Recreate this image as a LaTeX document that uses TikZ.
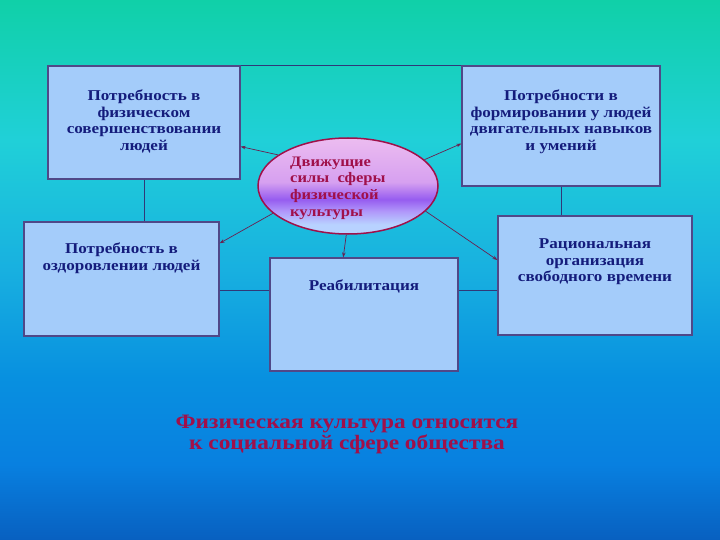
\documentclass[tikz,border=0pt]{standalone}
\usepackage{fontspec}
\setmainfont[FakeStretch=1.14]{Liberation Serif}
\usetikzlibrary{positioning,arrows.meta,shapes.geometric}
\definecolor{boxfill}{RGB}{164,204,250}
\definecolor{boxline}{RGB}{80,72,136}
\definecolor{boxink}{RGB}{20,28,124}
\definecolor{joinline}{RGB}{48,56,120}
\definecolor{arrowink}{RGB}{106,32,80}
\definecolor{maroon}{RGB}{160,16,74}
\pgfdeclareverticalshading{backdrop}{100bp}{
  color(0bp)=(rgb,255:red,8;green,96;blue,192);
  color(25bp)=(rgb,255:red,8;green,96;blue,192);
  color(32bp)=(rgb,255:red,8;green,128;blue,224);
  color(40bp)=(rgb,255:red,8;green,144;blue,224);
  color(50bp)=(rgb,255:red,24;green,176;blue,224);
  color(62bp)=(rgb,255:red,32;green,208;blue,216);
  color(75bp)=(rgb,255:red,16;green,208;blue,168);
  color(100bp)=(rgb,255:red,16;green,208;blue,168)}
\pgfdeclareverticalshading{ovalshade}{100bp}{
  color(0bp)=(rgb,255:red,184;green,210;blue,255);
  color(30bp)=(rgb,255:red,184;green,210;blue,255);
  color(37bp)=(rgb,255:red,176;green,150;blue,250);
  color(43bp)=(rgb,255:red,150;green,92;blue,240);
  color(52bp)=(rgb,255:red,214;green,160;blue,240);
  color(75bp)=(rgb,255:red,236;green,188;blue,240);
  color(100bp)=(rgb,255:red,236;green,188;blue,240)}
\tikzset{
  box/.style={draw=boxline, line width=1.2pt, fill=boxfill, inner sep=0pt},
  boxtext/.style={text=boxink, font=\fontsize{15}{16.5}\selectfont\bfseries, align=center, inner sep=0pt},
  linkline/.style={draw=joinline, line width=0.6pt},
  push/.style={draw=arrowink, line width=0.7pt, -{Stealth[length=5pt,width=3.5pt]}}
}
\begin{document}
\begin{tikzpicture}[x=1pt, y=-1pt]
  \useasboundingbox (0, 0) rectangle (720, 540);
  \shade [shading=backdrop] (0, 0) rectangle (720, 540);

  \node [box, minimum width=192, minimum height=113] (needA) at (144, 122.5) {};
  \node [box, minimum width=198, minimum height=120] (needB) at (561, 126) {};
  \node [box, minimum width=195, minimum height=114] (needC) at (121.5, 279) {};
  \node [box, minimum width=188, minimum height=113] (rehab) at (364, 314.5) {};
  \node [box, minimum width=194, minimum height=119] (leisure) at (595, 275.5) {};

  \node [boxtext] (textA) at ([yshift=1pt]needA) {Потребность в\\физическом\\совершенствовании\\людей};
  \node [boxtext] (textB) at ([yshift=4pt]needB) {Потребности в\\формировании у людей\\двигательных навыков\\и умений};
  \node [boxtext] (textC) at ([yshift=-37pt]needC.north) {Потребность в\\оздоровлении людей};
  \node [boxtext] (textD) at ([yshift=-29pt]rehab.north) {Реабилитация};
  \node [boxtext] (textE) at ([yshift=-46.5pt]leisure.north) {Рациональная\\организация\\свободного времени};

  \node [ellipse, draw=maroon, line width=1.5pt, shading=ovalshade,
         minimum width=180, minimum height=96, inner sep=0pt] (drive) at (348, 186) {};
  \node [text=maroon, font=\fontsize{14.5}{16.7}\selectfont\bfseries, align=left, anchor=west, inner sep=0pt] (driveText)
        at (290, 188) {Движущие\\силы\ \ сферы\\физической\\культуры};

  % links between the boxes
  \draw [linkline] (needA.north east) -- (needB.north west);
  \draw [linkline] (needA.south) -- (needA.south |- needC.north);
  \draw [linkline] (needB.south) -- (needB.south |- leisure.north);
  \draw [linkline] ([yshift=-11pt]needC.east) -- ([yshift=-11pt]needC.east -| rehab.west);
  \draw [linkline] ([yshift=-11pt]needC.east -| rehab.east) -- ([yshift=-11pt]needC.east -| leisure.west);

  % arrows from the centre
  \draw [push] (drive.156) -- (needA.-14);
  \draw [push] (drive.19) -- (needB.190);
  \draw [push] (drive.200) -- (needC.20);
  \draw [push] (drive.-92) -- (rehab.110);
  \draw [push] (drive.-18) -- (leisure.171);

  \node [text=maroon, font=\fontsize{20.5}{21}\selectfont\bfseries, align=center] (summary) at (347, 434)
        {Физическая культура относится\\к социальной сфере общества};
\end{tikzpicture}
\end{document}
